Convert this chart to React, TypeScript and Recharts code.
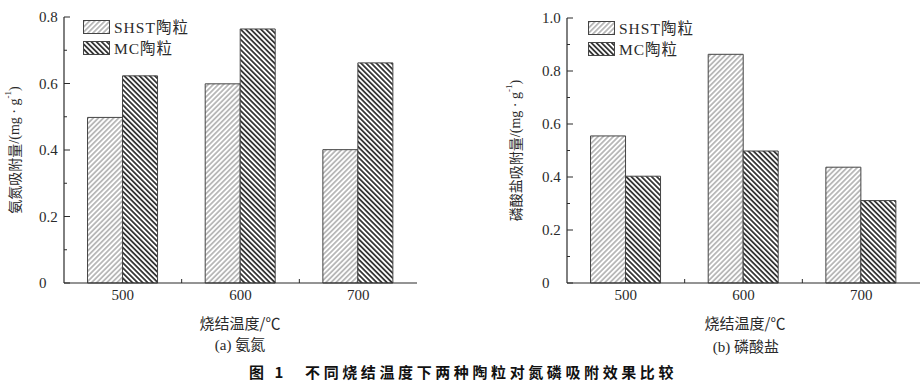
import React from 'react';
import { BarChart, Bar, XAxis, YAxis, Legend, Label } from 'recharts';

// sintering temperature (°C)
const temps = ['500', '600', '700'];

// (a) ammonia nitrogen adsorption, mg/g
const nitrogenShst = [0.498, 0.599, 0.401];
const nitrogenMc = [0.623, 0.764, 0.662];

// (b) phosphate adsorption, mg/g
const phosphateShst = [0.555, 0.863, 0.437];
const phosphateMc = [0.403, 0.498, 0.311];

const nitrogenTicks = [0, 0.1, 0.2, 0.3, 0.4, 0.5, 0.6, 0.7, 0.8];
const phosphateTicks = [0, 0.1, 0.2, 0.3, 0.4, 0.5, 0.6, 0.7, 0.8, 0.9, 1.0];

const seriesNames = ['SHST陶粒', 'MC陶粒'];

const nitrogenData = temps.map((t, i) => ({ temp: t, shst: nitrogenShst[i], mc: nitrogenMc[i] }));
const phosphateData = temps.map((t, i) => ({ temp: t, shst: phosphateShst[i], mc: phosphateMc[i] }));

const FONT = '"Liberation Serif", "Noto Sans CJK SC", serif';
const CJK = '"Noto Sans CJK SC", sans-serif';
const INK = '#2a2a2a';

const fmt = (v: number) => (v === 0 ? '0' : v.toFixed(1));

// y ticks point inward, labels only on every second tick, left aligned
const YTick = (props: any) => {
  const { x, y, payload } = props;
  const v = payload.value as number;
  const major = Math.round(v * 10) % 2 === 0;
  const ax = x + 8;
  return (
    <g>
      <line x1={ax} x2={ax + (major ? 6 : 3)} y1={y} y2={y} stroke={INK} strokeWidth={1} />
      {major && (
        <text x={ax - 25} y={y} dy={5} textAnchor="start" fontFamily={FONT} fontSize={15} fill={INK}>
          {fmt(v)}
        </text>
      )}
    </g>
  );
};

// x labels at band centres, small inward ticks on the band boundaries
const XTick = (props: any) => {
  const { x, y, payload, index } = props;
  const axisY = y - 6;
  const off = payload.offset || 0;
  return (
    <g>
      {index < temps.length - 1 && off > 0 && (
        <line x1={x + off} x2={x + off} y1={axisY} y2={axisY - 4} stroke={INK} strokeWidth={1} />
      )}
      <text x={x} y={axisY + 17} textAnchor="middle" fontFamily={FONT} fontSize={15} fill={INK}>
        {payload.value}
      </text>
    </g>
  );
};

const AxisTitle = (props: any) => {
  const { viewBox, text, dx } = props;
  const cx = viewBox.x + dx;
  const cy = viewBox.y + viewBox.height / 2;
  return (
    <text
      x={cx}
      y={cy}
      transform={`rotate(-90 ${cx} ${cy})`}
      textAnchor="middle"
      dominantBaseline="central"
      fontFamily={FONT}
      fontSize={14}
      fill={INK}
    >
      <tspan fontFamily={CJK}>{text}</tspan>
      <tspan>/(mg · g</tspan>
      <tspan dy={-6} fontSize={9}>-1</tspan>
      <tspan dy={6}>)</tspan>
    </text>
  );
};

const HatchLegend = (props: any) => {
  const items = [...(props.payload || [])].sort(
    (a: any, b: any) => seriesNames.indexOf(a.value) - seriesNames.indexOf(b.value)
  );
  return (
    <div style={{ fontFamily: FONT, fontSize: 15.5, color: INK, lineHeight: '14px' }}>
      {items.map((entry: any) => (
        <div key={entry.value} style={{ display: 'flex', alignItems: 'center', height: 21 }}>
          <svg width={27} height={15} style={{ display: 'block' }}>
            <rect x={0.5} y={0.5} width={26} height={13} fill={entry.color} stroke="#444" />
          </svg>
          <span style={{ marginLeft: 4, letterSpacing: 1 }}>{entry.value}</span>
        </div>
      ))}
    </div>
  );
};

const Patterns = ({ suffix }: { suffix: string }) => (
  <defs>
    <pattern id={`light${suffix}`} width={3.6} height={3.6} patternUnits="userSpaceOnUse" patternTransform="rotate(45)">
      <rect width={3.6} height={3.6} fill="#fff" />
      <line x1={1.8} y1={0} x2={1.8} y2={3.6} stroke="#8c8c8c" strokeWidth={1.1} />
    </pattern>
    <pattern id={`dark${suffix}`} width={3.6} height={3.6} patternUnits="userSpaceOnUse" patternTransform="rotate(-45)">
      <rect width={3.6} height={3.6} fill="#fff" />
      <line x1={1.8} y1={0} x2={1.8} y2={3.6} stroke="#1e1e1e" strokeWidth={1.6} />
    </pattern>
  </defs>
);

interface PanelProps {
  data: any[];
  ticks: number[];
  max: number;
  width: number;
  top: number;
  right: number;
  suffix: string;
  yTitle: string;
  titleDx: number;
  legendLeft: number;
}

const Panel = ({ data, ticks, max, width, top, right, suffix, yTitle, titleDx, legendLeft }: PanelProps) => (
  <BarChart
    width={width}
    height={310}
    data={data}
    margin={{ top, right, left: 0, bottom: 0 }}
    barCategoryGap="20%"
    barGap={0}
  >
    <Patterns suffix={suffix} />
    <XAxis
      dataKey="temp"
      height={27}
      tickSize={0}
      tickMargin={6}
      tickLine={false}
      axisLine={{ stroke: INK, strokeWidth: 1.2 }}
      tick={<XTick />}
      interval={0}
    />
    <YAxis
      width={64}
      domain={[0, max]}
      ticks={ticks}
      tickSize={0}
      tickMargin={8}
      tickLine={false}
      axisLine={{ stroke: INK, strokeWidth: 1.2 }}
      tick={<YTick />}
      interval={0}
    >
      <Label content={<AxisTitle text={yTitle} dx={titleDx} />} />
    </YAxis>
    <Legend
      layout="horizontal"
      verticalAlign="middle"
      align="center"
      content={<HatchLegend />}
      wrapperStyle={{ left: legendLeft, top: top, width: 'auto', height: 'auto' }}
    />
    <Bar dataKey="shst" name={seriesNames[0]} fill={`url(#light${suffix})`} stroke="#444" strokeWidth={1} isAnimationActive={false} />
    <Bar dataKey="mc" name={seriesNames[1]} fill={`url(#dark${suffix})`} stroke="#444" strokeWidth={1} isAnimationActive={false} />
  </BarChart>
);

const caption: React.CSSProperties = {
  position: 'absolute',
  fontFamily: FONT,
  color: INK,
  textAlign: 'center',
  whiteSpace: 'nowrap',
  transform: 'translateX(-50%)',
};

export default function App() {
  return (
    <div style={{ position: 'absolute', left: 0, top: 0, width: 922, height: 384, background: '#fff', overflow: 'hidden' }}>
      <div style={{ position: 'absolute', left: 0, top: 0 }}>
        <Panel
          data={nitrogenData}
          ticks={nitrogenTicks}
          max={0.8}
          width={430}
          top={17}
          right={13}
          suffix="A"
          yTitle="氨氮吸附量"
          titleDx={14}
          legendLeft={83}
        />
      </div>
      <div style={{ position: 'absolute', left: 503, top: 0 }}>
        <Panel
          data={phosphateData}
          ticks={phosphateTicks}
          max={1.0}
          width={419}
          top={18}
          right={2}
          suffix="B"
          yTitle="磷酸盐吸附量"
          titleDx={12}
          legendLeft={85}
        />
      </div>

      <div style={{ ...caption, left: 240, top: 312, fontSize: 15, fontFamily: CJK }}>烧结温度/℃</div>
      <div style={{ ...caption, left: 240, top: 333, fontSize: 15 }}>
        (a) <span style={{ fontFamily: CJK }}>氨氮</span>
      </div>
      <div style={{ ...caption, left: 745, top: 312, fontSize: 15, fontFamily: CJK }}>烧结温度/℃</div>
      <div style={{ ...caption, left: 746, top: 335, fontSize: 15 }}>
        (b) <span style={{ fontFamily: CJK }}>磷酸盐</span>
      </div>

      <div
        style={{
          position: 'absolute',
          left: 249,
          top: 361,
          fontFamily: CJK,
          fontWeight: 700,
          fontSize: 15,
          letterSpacing: 3.6,
          color: '#111',
          whiteSpace: 'nowrap',
        }}
      >
        图 1<span style={{ display: 'inline-block', width: 18 }} />不同烧结温度下两种陶粒对氮磷吸附效果比较
      </div>
    </div>
  );
}
